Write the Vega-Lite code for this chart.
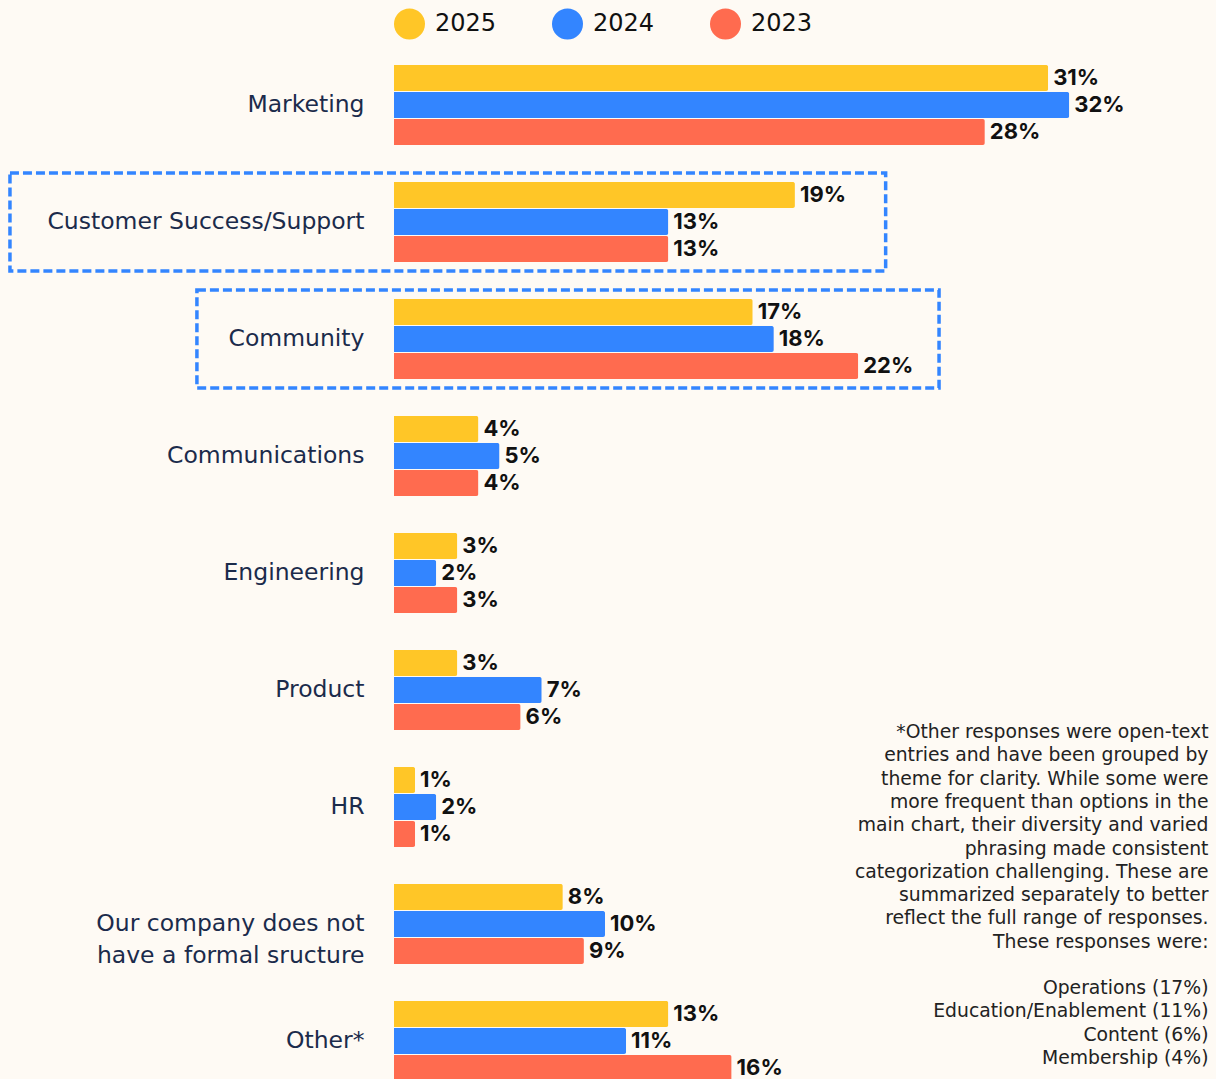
{
  "$schema": "https://vega.github.io/schema/vega-lite/v6.json",
  "autosize": {"type": "none"},
  "width": 814.5,
  "height": 1053,
  "padding": {"left": 394, "top": 46.5, "right": 7.5, "bottom": 0},
  "background": "#FEFAF4",
  "config": {"view": {"stroke": null}, "font": "Inter"},
  "datasets": {
    "bars": [
      {"category": "Marketing", "year": "2025", "value": 31},
      {"category": "Marketing", "year": "2024", "value": 32},
      {"category": "Marketing", "year": "2023", "value": 28},
      {"category": "Customer Success/Support", "year": "2025", "value": 19},
      {"category": "Customer Success/Support", "year": "2024", "value": 13},
      {"category": "Customer Success/Support", "year": "2023", "value": 13},
      {"category": "Community", "year": "2025", "value": 17},
      {"category": "Community", "year": "2024", "value": 18},
      {"category": "Community", "year": "2023", "value": 22},
      {"category": "Communications", "year": "2025", "value": 4},
      {"category": "Communications", "year": "2024", "value": 5},
      {"category": "Communications", "year": "2023", "value": 4},
      {"category": "Engineering", "year": "2025", "value": 3},
      {"category": "Engineering", "year": "2024", "value": 2},
      {"category": "Engineering", "year": "2023", "value": 3},
      {"category": "Product", "year": "2025", "value": 3},
      {"category": "Product", "year": "2024", "value": 7},
      {"category": "Product", "year": "2023", "value": 6},
      {"category": "HR", "year": "2025", "value": 1},
      {"category": "HR", "year": "2024", "value": 2},
      {"category": "HR", "year": "2023", "value": 1},
      {"category": "Our company does not have a formal sructure", "year": "2025", "value": 8},
      {"category": "Our company does not have a formal sructure", "year": "2024", "value": 10},
      {"category": "Our company does not have a formal sructure", "year": "2023", "value": 9},
      {"category": "Other*", "year": "2025", "value": 13},
      {"category": "Other*", "year": "2024", "value": 11},
      {"category": "Other*", "year": "2023", "value": 16}
    ],
    "boxes": [
      {"category": "Customer Success/Support", "start": -18.2, "end": 23.3},
      {"category": "Community", "start": -9.34, "end": 25.83}
    ],
    "note": [
      {"text": "*Other responses were open-text\nentries and have been grouped by\ntheme for clarity. While some were\nmore frequent than options in the\nmain chart, their diversity and varied\nphrasing made consistent\ncategorization challenging. These are\nsummarized separately to better\nreflect the full range of responses.\nThese responses were:", "x": 38.6}
    ],
    "list": [
      {"text": "Operations (17%)\nEducation/Enablement (11%)\nContent (6%)\nMembership (4%)", "x": 38.6}
    ]
  },
  "encoding": {
    "y": {
      "field": "category",
      "type": "nominal",
      "sort": ["Marketing", "Customer Success/Support", "Community", "Communications", "Engineering", "Product", "HR", "Our company does not have a formal sructure", "Other*"],
      "scale": {"paddingInner": 0.316, "paddingOuter": 0.158},
      "axis": {
        "title": null,
        "ticks": false,
        "domain": false,
        "labelPadding": 30,
        "labelFont": "DejaVu Sans",
        "labelFontSize": 23.5,
        "labelColor": "#1B2B4B",
        "labelLineHeight": 32,
        "labelLimit": 400,
        "labelExpr": "datum.value == 'Our company does not have a formal sructure' ? ['Our company does not', 'have a formal sructure'] : datum.value"
      }
    }
  },
  "layer": [
    {
      "data": {"name": "boxes"},
      "mark": {"type": "bar", "filled": false, "stroke": "#3385FF", "strokeWidth": 3.5, "strokeDash": [9, 4], "height": {"band": 1.225}, "clip": false},
      "encoding": {
        "x": {"field": "start", "type": "quantitative", "scale": {"domain": [0, 38.6], "nice": false, "zero": false}, "axis": null},
        "x2": {"field": "end"}
      }
    },
    {
      "data": {"name": "bars"},
      "mark": {"type": "bar", "cornerRadiusEnd": 2},
      "encoding": {
        "x": {"field": "value", "type": "quantitative"},
        "yOffset": {"field": "year", "type": "nominal", "sort": ["2025", "2024", "2023"], "scale": {"paddingInner": 0.037, "paddingOuter": 0}},
        "color": {
          "field": "year",
          "type": "nominal",
          "scale": {"domain": ["2025", "2024", "2023"], "range": ["#FFC627", "#3385FF", "#FF6B4F"]},
          "legend": {
            "title": null,
            "orient": "none",
            "direction": "horizontal",
            "legendX": 0,
            "legendY": -38,
            "symbolType": "circle",
            "symbolSize": 961,
            "symbolStrokeWidth": 0,
            "labelFont": "DejaVu Sans",
            "labelFontSize": 24,
            "labelColor": "#111111",
            "labelOffset": 10,
            "columnPadding": 55
          }
        }
      }
    },
    {
      "data": {"name": "bars"},
      "transform": [{"calculate": "datum.value + '%'", "as": "label"}],
      "mark": {"type": "text", "align": "left", "baseline": "middle", "dx": 5, "fontSize": 22, "fontWeight": "bold", "color": "#111111"},
      "encoding": {
        "x": {"field": "value", "type": "quantitative"},
        "yOffset": {"field": "year", "type": "nominal", "sort": ["2025", "2024", "2023"]},
        "text": {"field": "label"},
        "detail": {"field": "year"}
      }
    },
    {
      "data": {"name": "note"},
      "mark": {"type": "text", "align": "right", "baseline": "middle", "font": "DejaVu Sans", "fontSize": 18.8, "lineHeight": 23.3, "lineBreak": "\n", "color": "#222222", "dy": -192},
      "encoding": {
        "x": {"field": "x", "type": "quantitative"},
        "y": {"datum": "Our company does not have a formal sructure"},
        "text": {"field": "text"}
      }
    },
    {
      "data": {"name": "list"},
      "mark": {"type": "text", "align": "right", "baseline": "middle", "font": "DejaVu Sans", "fontSize": 18.8, "lineHeight": 23.3, "lineBreak": "\n", "color": "#222222", "dy": 64},
      "encoding": {
        "x": {"field": "x", "type": "quantitative"},
        "y": {"datum": "Our company does not have a formal sructure"},
        "text": {"field": "text"}
      }
    }
  ]
}
